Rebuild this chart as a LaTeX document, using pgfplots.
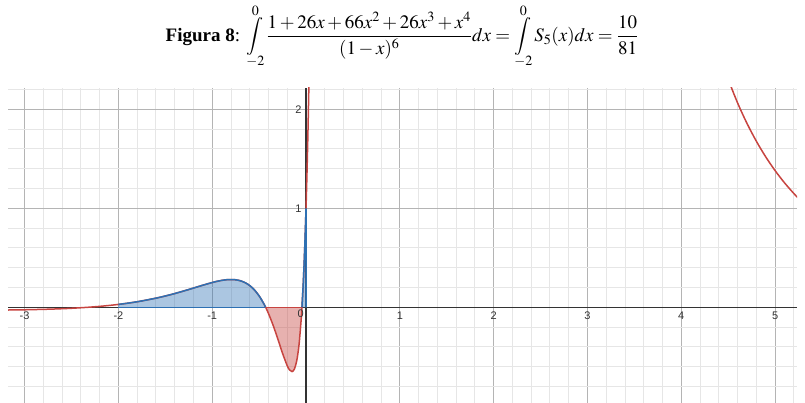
\documentclass[border=0pt]{standalone}
\usepackage{mathptmx}
\usepackage[no-math]{fontspec}
\setmainfont{Liberation Serif}
\newfontfamily\lab{Liberation Sans}
\usepackage{pgfplots}
\pgfplotsset{compat=1.18}
\definecolor{dred}{HTML}{C74440}
\definecolor{dblue}{HTML}{2D70B3}
\definecolor{gmaj}{HTML}{B4B4B4}
\definecolor{gmin}{HTML}{E6E6E6}
\newcommand{\dint}[2]{\mathop{\vcenter{\offinterlineskip\halign{\hfil##\hfil\cr$\scriptstyle #2$\cr\noalign{\kern1.5pt}$\displaystyle\int$\cr\noalign{\kern1.5pt}$\scriptstyle #1$\cr}}}\nolimits}
\begin{document}
\begin{tikzpicture}
\path[use as bounding box] (0pt,0pt) rectangle (805pt,403pt);
\node[anchor=center, font=\fontsize{19}{23}\selectfont] at (402pt,366.5pt)
 {\textbf{Figura 8}: $\displaystyle\dint{-2}{0}\frac{1+26x+66x^{2}+26x^{3}+x^{4}}{(1-x)^{6}}dx=\dint{-2}{0}S_{5}(x)dx=\frac{10}{81}$};
\begin{axis}[
  at={(8pt,0pt)}, anchor=south west,
  scale only axis, width=789pt, height=315pt,
  xmin=-3.177, xmax=5.234, ymin=-0.967, ymax=2.215,
  axis lines=middle,
  axis line style={draw=black!80, line width=1.1pt, -},
  xtick={-3,-2,-1,0,1,2,3,4,5},
  xticklabels={-3,-2,-1,,1,2,3,4,5},
  ytick={0,1,2}, yticklabels={,1,2},
  minor xtick={-3.2,-3.0,-2.8,-2.6,-2.4,-2.2,-2.0,-1.8,-1.6,-1.4,-1.2,-1.0,-0.8,-0.6,-0.4,-0.2,0.2,0.4,0.6,0.8,1.2,1.4,1.6,1.8,2.2,2.4,2.6,2.8,3.2,3.4,3.6,3.8,4.2,4.4,4.6,4.8,5.2},
  minor ytick={-0.8,-0.6,-0.4,-0.2,0.2,0.4,0.6,0.8,1.2,1.4,1.6,1.8,2.2},
  major tick length=0pt, minor tick length=0pt,
  grid=both,
  major grid style={draw=gmaj, line width=0.9pt},
  minor grid style={draw=gmin, line width=0.9pt},
  ticklabel style={font=\lab\fontsize{11}{13}\selectfont, text=black!80},
  xticklabel style={yshift=-1pt},
  yticklabel style={xshift=-1pt},
  hide obscured x ticks=false, hide obscured y ticks=false,
  clip=true,
]
% fills
\addplot[draw=none, fill=dblue, fill opacity=0.4] coordinates {
(-2,0) (-2,0.0288) (-1.9,0.0413) (-1.8,0.0558) (-1.75,0.0640) (-1.6,0.0920) (-1.5,0.1139) (-1.4,0.1384) (-1.25,0.1795) (-1.2,0.1939) (-1.1,0.2229) (-1,0.25) (-0.95,0.2617) (-0.9,0.2713) (-0.85,0.2779) (-0.8,0.2804) (-0.75,0.2776) (-0.7,0.2677) (-0.65,0.2489) (-0.6,0.2190) (-0.55,0.1753) (-0.5,0.1152) (-0.45,0.0362) (-0.4305,0)} -- cycle;
\addplot[draw=none, fill=dblue, fill opacity=0.4] coordinates {
(-0.0435,0) (-0.03,0.2334) (-0.02,0.4495) (-0.01,0.7033) (0,1) (0,0)} -- cycle;
\addplot[draw=none, fill=dred, fill opacity=0.42] coordinates {
(-0.4305,0) (-0.4,-0.0635) (-0.35,-0.1842) (-0.3,-0.3219) (-0.25,-0.4659) (-0.2,-0.5916) (-0.175,-0.6335) (-0.15,-0.6495) (-0.14,-0.6457) (-0.125,-0.6261) (-0.1,-0.5452) (-0.075,-0.3821) (-0.05,-0.1032) (-0.0435,0)} -- cycle;
% base lines
\addplot[dblue, line width=1.5pt] coordinates {(-2,0) (-0.4305,0)};
\addplot[dred, line width=1.5pt] coordinates {(-0.4305,0) (-0.0435,0)};
% red full curve
\addplot[dred, line width=1.5pt, smooth] coordinates {
(-3.18,-0.0277) (-3,-0.0254) (-2.75,-0.0197) (-2.6,-0.0146) (-2.5,-0.0102) (-2.4,-0.0048) (-2.3225,0) (-2.25,0.0052) (-2.2,0.0091) (-2.1,0.0182) (-2,0.0288) (-1.9,0.0413) (-1.8,0.0558) (-1.75,0.0640) (-1.6,0.0920) (-1.5,0.1139) (-1.4,0.1384) (-1.25,0.1795) (-1.2,0.1939) (-1.1,0.2229) (-1,0.25) (-0.95,0.2617) (-0.9,0.2713) (-0.85,0.2779) (-0.8,0.2804) (-0.75,0.2776) (-0.7,0.2677) (-0.65,0.2489) (-0.6,0.2190) (-0.55,0.1753) (-0.5,0.1152) (-0.45,0.0362) (-0.4305,0) (-0.4,-0.0635) (-0.35,-0.1842) (-0.3,-0.3219) (-0.25,-0.4659) (-0.2,-0.5916) (-0.175,-0.6335) (-0.15,-0.6495) (-0.14,-0.6457) (-0.125,-0.6261) (-0.1,-0.5452) (-0.075,-0.3821) (-0.05,-0.1032) (-0.0435,0) (-0.03,0.2334) (-0.02,0.4495) (-0.01,0.7033) (0,1) (0.01,1.3454) (0.02,1.7459) (0.03,2.2091) (0.035,2.4667)};
\addplot[dred, line width=1.5pt, smooth] coordinates {
(4.45,2.4356) (4.5,2.3031) (4.6,2.0653) (4.7,1.8585) (4.8,1.6781) (4.9,1.5200) (5,1.3809) (5.1,1.2580) (5.2,1.1492) (5.25,1.0994)};
% blue outline
\addplot[dblue, line width=1.5pt, smooth] coordinates {
(-2,0.0288) (-1.9,0.0413) (-1.8,0.0558) (-1.75,0.0640) (-1.6,0.0920) (-1.5,0.1139) (-1.4,0.1384) (-1.25,0.1795) (-1.2,0.1939) (-1.1,0.2229) (-1,0.25) (-0.95,0.2617) (-0.9,0.2713) (-0.85,0.2779) (-0.8,0.2804) (-0.75,0.2776) (-0.7,0.2677) (-0.65,0.2489) (-0.6,0.2190) (-0.55,0.1753) (-0.5,0.1152) (-0.45,0.0362) (-0.4305,0)};
\addplot[dblue, line width=1.5pt] coordinates {
(-0.0435,0) (-0.03,0.2334) (-0.02,0.4495) (-0.01,0.7033) (0,1) (0,0)};
\node[anchor=north east, font=\lab\fontsize{11}{13}\selectfont, text=black!80, inner sep=2pt] at (axis cs:0,0) {0};
\end{axis}
\end{tikzpicture}
\end{document}
